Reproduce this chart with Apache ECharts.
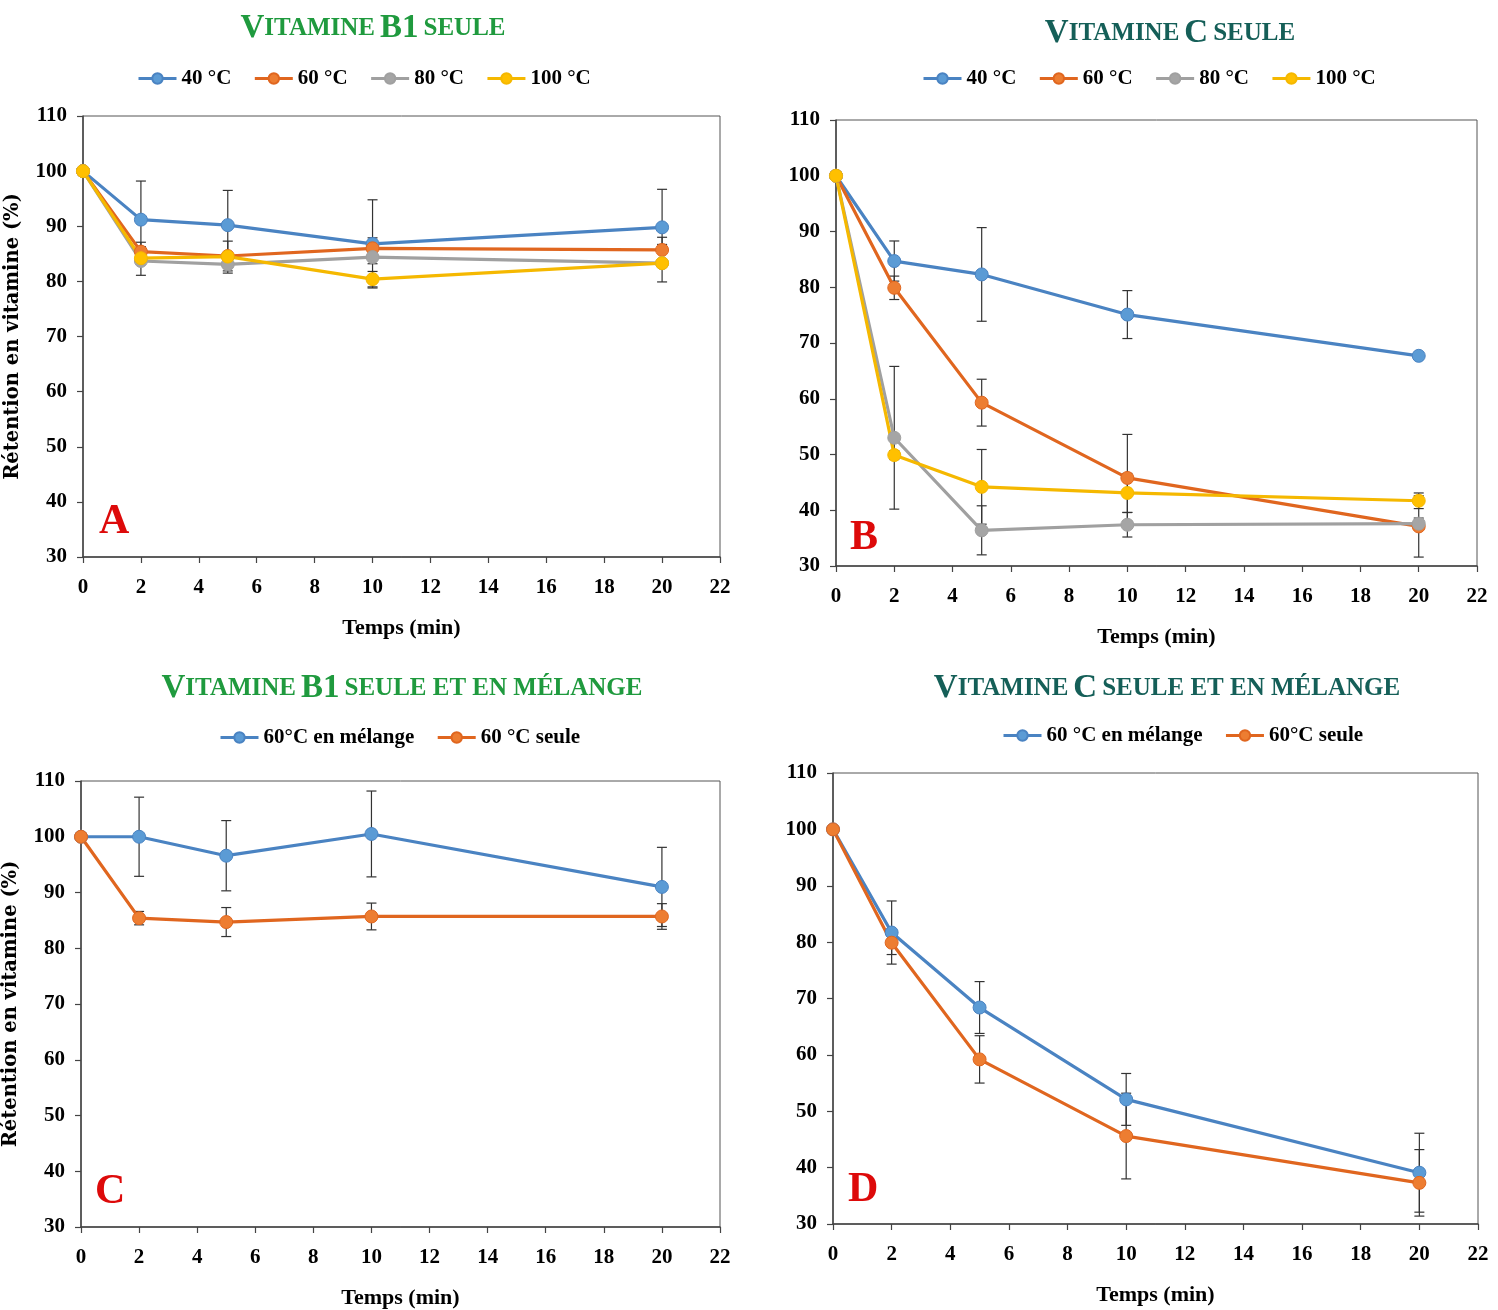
<!DOCTYPE html>
<html>
<head>
<meta charset="utf-8">
<script src="https://cdn.jsdelivr.net/npm/echarts@6/dist/echarts.min.js"></script>
<style>
html,body{margin:0;padding:0;background:#fff;}
#c{width:1498px;height:1310px;}
</style>
</head>
<body>
<div id="c"></div>
<script>
// ---- data ----
const times = [0, 2, 5, 10, 20];

// Panel A : Vitamine B1 seule
const b1_40 = [100, 91.2, 90.2, 86.8, 89.8];
const b1_40_err = [0, 7.0, 6.3, 8.0, 6.9];
const b1_60 = [100, 85.4, 84.6, 86.0, 85.7];
const b1_60_err = [0, 1.7, 2.7, 1.9, 2.3];
const b1_80 = [100, 83.7, 83.1, 84.4, 83.3];
const b1_80_err = [0, 2.6, 1.6, 1.2, 3.4];
const b1_100 = [100, 84.2, 84.5, 80.4, 83.3];
const b1_100_err = [0, 0.6, 0.6, 1.4, 0.6];

// Panel B : Vitamine C seule
const c_40 = [100, 84.7, 82.3, 75.1, 67.7];
const c_40_err = [0, 3.6, 8.4, 4.3, 0.5];
const c_60 = [100, 79.9, 59.3, 45.8, 37.1];
const c_60_err = [0, 2.1, 4.2, 7.8, 5.5];
const c_80 = [100, 53.0, 36.4, 37.4, 37.6];
const c_80_err = [0, 12.8, 4.4, 2.2, 1.0];
const c_100 = [100, 49.9, 44.2, 43.1, 41.7];
const c_100_err = [0, 0.8, 6.7, 3.5, 1.4];

// Panel C : Vitamine B1 seule et en mélange
const b1_mix = [100, 100, 96.6, 100.5, 91.0];
const b1_mix_err = [0, 7.1, 6.3, 7.7, 7.1];
const b1_seule = [100, 85.4, 84.7, 85.7, 85.7];
const b1_seule_err = [0, 1.2, 2.6, 2.4, 2.3];

// Panel D : Vitamine C seule et en mélange
const c_mix = [100, 81.7, 68.4, 52.1, 39.1];
const c_mix_err = [0, 5.6, 4.6, 4.6, 7.0];
const c_seule = [100, 79.9, 59.2, 45.6, 37.3];
const c_seule_err = [0, 2.1, 4.2, 7.6, 5.9];

const namesTemp = ['40 °C', '60 °C', '80 °C', '100 °C'];
const namesC = ['60°C en mélange', '60 °C seule'];
const namesD = ['60 °C en mélange', '60°C seule'];

// ---- styles ----
const COLORS = {
  blue: {line: '#4a83c2', sym: '#5b9bd5'},
  orange: {line: '#e0661f', sym: '#ed7d31'},
  gray: {line: '#a0a0a0', sym: '#a5a5a5'},
  yellow: {line: '#f5b800', sym: '#ffc000'}
};
const FONT = 'Liberation Serif';

function pairs(vals) { return times.map((t, i) => [t, vals[i]]); }
function triples(vals, errs) { return times.map((t, i) => [t, vals[i], errs[i]]); }

function lineSeries(name, vals, col, gi) {
  return {
    type: 'line', name: name, xAxisIndex: gi, yAxisIndex: gi,
    data: pairs(vals), symbol: 'circle', symbolSize: 13,
    lineStyle: {color: col.line, width: 3.2},
    itemStyle: {color: col.sym, borderColor: col.line, borderWidth: 1},
    z: 3, animation: false
  };
}
function errRender(params, api) {
  const x = api.value(0), y = api.value(1), e = api.value(2);
  if (!e) return null;
  const top = api.coord([x, y + e]);
  const bot = api.coord([x, y - e]);
  const w = 5;
  const st = {stroke: '#333', lineWidth: 1.2};
  return {
    type: 'group', children: [
      {type: 'line', shape: {x1: top[0], y1: top[1], x2: bot[0], y2: bot[1]}, style: st},
      {type: 'line', shape: {x1: top[0] - w, y1: top[1], x2: top[0] + w, y2: top[1]}, style: st},
      {type: 'line', shape: {x1: bot[0] - w, y1: bot[1], x2: bot[0] + w, y2: bot[1]}, style: st}
    ]
  };
}
function errSeries(vals, errs, gi) {
  return {
    type: 'custom', xAxisIndex: gi, yAxisIndex: gi, renderItem: errRender,
    data: triples(vals, errs), z: 2, silent: true, animation: false,
    encode: {x: 0, y: 1}
  };
}

const grids = [
  {left: 83, right: 778, top: 116, bottom: 753},
  {left: 836, right: 21, top: 120, bottom: 744},
  {left: 81, right: 778, top: 781, bottom: 83},
  {left: 833, right: 20, top: 773, bottom: 86}
];

const axisLab = {fontFamily: FONT, fontWeight: 'bold', fontSize: 21, color: '#000'};
const axisLine = {show: true, lineStyle: {color: '#444', width: 1.5}};
const axisTick = {show: true, inside: false, length: 6, lineStyle: {color: '#444', width: 1.2}};

const xAxes = grids.map((g, i) => ({
  type: 'value', gridIndex: i, min: 0, max: 22, interval: 2,
  axisLine: axisLine, axisTick: axisTick, splitLine: {show: false},
  axisLabel: Object.assign({margin: 20}, axisLab),
  name: 'Temps (min)', nameLocation: 'middle', nameGap: 60,
  nameTextStyle: {fontFamily: FONT, fontWeight: 'bold', fontSize: 22, color: '#000'}
}));
const yAxes = grids.map((g, i) => ({
  type: 'value', gridIndex: i, min: 30, max: 110, interval: 10,
  axisLine: axisLine, axisTick: axisTick, splitLine: {show: false},
  axisLabel: Object.assign({margin: 16}, axisLab),
  name: (i === 0 || i === 2) ? 'Rétention en vitamine (%)' : '',
  nameLocation: 'middle', nameGap: 60,
  nameTextStyle: {fontFamily: 'DejaVu Serif', fontWeight: 'bold', fontSize: 19.5, color: '#000'}
}));

function titleRich(color) {
  return {
    big: {fontFamily: FONT, fontWeight: 'bold', fontSize: 33, color: color},
    sm: {fontFamily: FONT, fontWeight: 'bold', fontSize: 25, color: color}
  };
}
const GREEN = '#1f9a3e';
const TEAL = '#155f58';
const titles = [
  {text: '{big|V}{sm|ITAMINE} {big|B1} {sm|SEULE}', left: 373, top: 12, textAlign: 'center', padding: 0,
   textStyle: {rich: titleRich(GREEN)}},
  {text: '{big|V}{sm|ITAMINE} {big|C} {sm|SEULE}', left: 1170, top: 17, textAlign: 'center', padding: 0,
   textStyle: {rich: titleRich(TEAL)}},
  {text: '{big|V}{sm|ITAMINE} {big|B1} {sm|SEULE ET EN MÉLANGE}', left: 402, top: 672, textAlign: 'center', padding: 0,
   textStyle: {rich: titleRich(GREEN)}},
  {text: '{big|V}{sm|ITAMINE} {big|C} {sm|SEULE ET EN MÉLANGE}', left: 1167, top: 672, textAlign: 'center', padding: 0,
   textStyle: {rich: titleRich(TEAL)}}
];

const legTxt = {fontFamily: FONT, fontWeight: 'bold', fontSize: 21, color: '#000'};
const legBase = {itemWidth: 38, itemHeight: 13, itemGap: 22, textStyle: legTxt, padding: 0, selectedMode: false,
                 lineStyle: {width: 3}};
const legends = [
  Object.assign({left: 137, top: 68, data: namesTemp}, legBase),
  Object.assign({left: 922, top: 68, data: namesTemp}, legBase),
  Object.assign({left: 219, top: 727, data: namesC}, legBase),
  Object.assign({left: 1002, top: 725, data: namesD}, legBase)
];

const series = [];
// A
series.push(errSeries(b1_40, b1_40_err, 0), errSeries(b1_60, b1_60_err, 0), errSeries(b1_80, b1_80_err, 0), errSeries(b1_100, b1_100_err, 0));
series.push(lineSeries(namesTemp[0], b1_40, COLORS.blue, 0), lineSeries(namesTemp[1], b1_60, COLORS.orange, 0),
            lineSeries(namesTemp[2], b1_80, COLORS.gray, 0), lineSeries(namesTemp[3], b1_100, COLORS.yellow, 0));
// B
series.push(errSeries(c_40, c_40_err, 1), errSeries(c_60, c_60_err, 1), errSeries(c_80, c_80_err, 1), errSeries(c_100, c_100_err, 1));
series.push(lineSeries(namesTemp[0], c_40, COLORS.blue, 1), lineSeries(namesTemp[1], c_60, COLORS.orange, 1),
            lineSeries(namesTemp[2], c_80, COLORS.gray, 1), lineSeries(namesTemp[3], c_100, COLORS.yellow, 1));
// C
series.push(errSeries(b1_mix, b1_mix_err, 2), errSeries(b1_seule, b1_seule_err, 2));
series.push(lineSeries(namesC[0], b1_mix, COLORS.blue, 2), lineSeries(namesC[1], b1_seule, COLORS.orange, 2));
// D
series.push(errSeries(c_mix, c_mix_err, 3), errSeries(c_seule, c_seule_err, 3));
series.push(lineSeries(namesD[0], c_mix, COLORS.blue, 3), lineSeries(namesD[1], c_seule, COLORS.orange, 3));

const letterFont = 'bold 42px "Liberation Serif"';
const letters = [['A', 99, 522], ['B', 850, 538], ['C', 95, 1192], ['D', 848, 1190]];
const graphics = letters.map(l => ({
  type: 'text', x: l[1], y: l[2], z: 10,
  style: {text: l[0], font: letterFont, fill: '#dd0a0a', textAlign: 'left', textVerticalAlign: 'middle'}
}));

const chart = echarts.init(document.getElementById('c'), null, {renderer: 'canvas'});
chart.setOption({
  backgroundColor: '#fff',
  animation: false,
  title: titles,
  legend: legends,
  grid: grids.map(g => Object.assign({show: true, borderColor: '#555', borderWidth: 1, backgroundColor: 'transparent'}, g)),
  xAxis: xAxes,
  yAxis: yAxes,
  series: series,
  graphic: graphics
});
</script>
</body>
</html>
